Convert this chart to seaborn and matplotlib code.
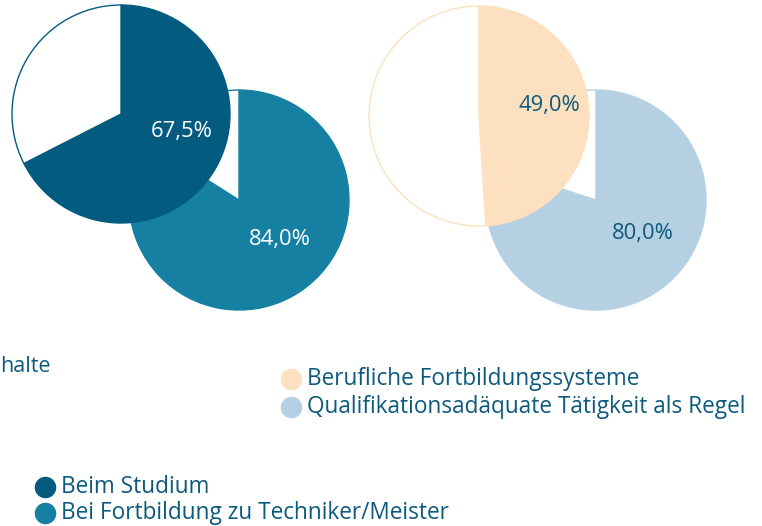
import matplotlib.pyplot as plt
import seaborn as sns

# data
names = ["Beim Studium", "Bei Fortbildung zu Techniker/Meister",
         "Berufliche Fortbildungssysteme", "Qualifikationsadäquate Tätigkeit als Regel"]
shares = [67.5, 84.0, 49.0, 80.0]
labels = ["67,5%", "84,0%", "49,0%", "80,0%"]
colors = ["#045b80", "#1680a3", "#fde0bf", "#b5d0e3"]
label_colors = ["white", "white", "#0d5a7e", "#0d5a7e"]

# layout (pixel coords, y from top)
H = 526
centers = [(121, 114), (239, 200), (479, 116), (596, 200)]
radius = [109, 110, 110, 110]
label_pos = [(182, 132), (280, 239), (549, 105), (643, 234)]
draw_order = [1, 0, 3, 2]
legend_pos = [(45, 487), (45, 513), (291, 379), (291, 407)]
text_color = "#0d5a7e"

sns.set_theme(style="white")
plt.rcParams["font.family"] = ["Open Sans", "DejaVu Sans"]

fig = plt.figure(figsize=(7.62, 5.26), dpi=100)
ax = fig.add_axes([0, 0, 1, 1])

for i in draw_order:
    cx, cy = centers[i]
    ax.pie([shares[i], 100 - shares[i]], colors=[colors[i], "white"],
           center=(cx, H - cy), radius=radius[i], startangle=90,
           counterclock=False,
           wedgeprops=dict(edgecolor=colors[i], linewidth=1))
    lx, ly = label_pos[i]
    ax.text(lx, H - ly, labels[i], color=label_colors[i], fontsize=15.8,
            ha="center", va="center")

# legends
for i, (x, y) in enumerate(legend_pos):
    ax.scatter([x], [H - y], s=240, color=colors[i], linewidths=0)
    ax.text(x + 16, H - y, names[i], color=text_color, fontsize=16.3,
            ha="left", va="center")

ax.text(0, H - 367, "halte", color=text_color, fontsize=15.5,
        ha="left", va="center")

ax.set_xlim(0, 762)
ax.set_ylim(0, H)
ax.set_aspect("equal")
ax.axis("off")

fig.savefig("out.png", dpi=100)
